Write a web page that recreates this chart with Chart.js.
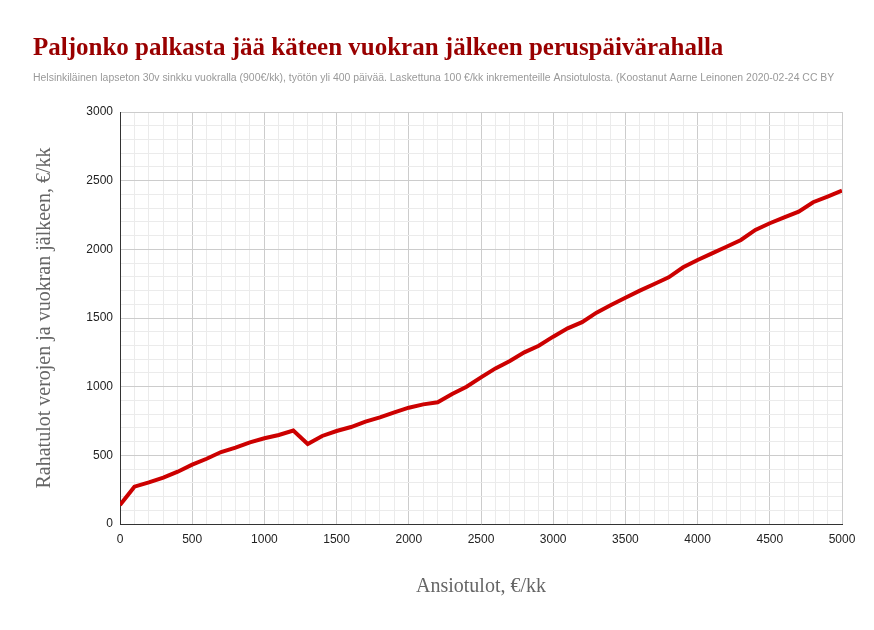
<!DOCTYPE html>
<html>
<head>
<meta charset="utf-8">
<script src="https://cdn.jsdelivr.net/npm/chart.js@4.4.1/dist/chart.umd.min.js"></script>
<style>
  html, body { margin: 0; padding: 0; background: #fff; }
  #wrap { width: 874px; height: 630px; position: relative; }
</style>
</head>
<body>
<div id="wrap"><canvas id="chart" width="874" height="630"></canvas></div>
<script>
// Data
const chartTitle = "Paljonko palkasta jää käteen vuokran jälkeen peruspäivärahalla";
const chartSubtitle = "Helsinkiläinen lapseton 30v sinkku vuokralla (900€/kk), työtön yli 400 päivää. Laskettuna 100 €/kk inkrementeille Ansiotulosta. (Koostanut Aarne Leinonen 2020-02-24 CC BY";
const xAxisTitle = "Ansiotulot, €/kk";
const yAxisTitle = "Rahatulot verojen ja vuokran jälkeen, €/kk";

const grossIncome = [
  0, 100, 200, 300, 400, 500, 600, 700, 800, 900,
  1000, 1100, 1200, 1300, 1400, 1500, 1600, 1700, 1800, 1900,
  2000, 2100, 2200, 2300, 2400, 2500, 2600, 2700, 2800, 2900,
  3000, 3100, 3200, 3300, 3400, 3500, 3600, 3700, 3800, 3900,
  4000, 4100, 4200, 4300, 4400, 4500, 4600, 4700, 4800, 4900,
  5000
];
const netIncome = [
  138, 272, 303, 337, 381, 432, 475, 524, 556, 595,
  624, 648, 680, 583, 641, 677, 706, 745, 777, 813,
  847, 871, 886, 947, 1000, 1068, 1133, 1187, 1250, 1298,
  1364, 1425, 1470, 1539, 1595, 1648, 1699, 1748, 1796, 1869,
  1922, 1971, 2019, 2068, 2141, 2190, 2233, 2274, 2343, 2384,
  2427
];

const xMax = 5000;
const yMax = 3000;
const majorStep = 500;
const minorStep = 100;

const points = grossIncome.map((x, i) => ({ x, y: netIncome[i] }));

// header text drawn into the top padding
const headerPlugin = {
  id: "header",
  afterDraw(chart) {
    const ctx = chart.ctx;
    ctx.save();
    ctx.textAlign = "left";
    ctx.textBaseline = "alphabetic";
    ctx.fillStyle = "#990000";
    ctx.font = "bold 25px 'Liberation Serif', 'DejaVu Serif', serif";
    ctx.fillText(chartTitle, 33, 55);
    ctx.fillStyle = "#999999";
    ctx.font = "10.45px 'Liberation Sans', Arial, sans-serif";
    ctx.fillText(chartSubtitle, 33, 81);
    ctx.restore();
  }
};

const gridColor = (ctx) => {
  const v = ctx.tick ? ctx.tick.value : 0;
  return v % majorStep === 0 ? "#cccccc" : "#ebebeb";
};

const tickLabel = (value) => (value % majorStep === 0 ? String(value) : "");

new Chart(document.getElementById("chart"), {
  type: "line",
  data: {
    datasets: [{
      data: points,
      borderColor: "#cc0000",
      borderWidth: 4,
      pointRadius: 0,
      tension: 0,
      fill: false,
    }]
  },
  options: {
    responsive: false,
    animation: false,
    layout: { padding: { top: 112, right: 32, bottom: 0, left: 0 } },
    plugins: {
      legend: { display: false },
      tooltip: { enabled: false },
    },
    scales: {
      x: {
        type: "linear",
        min: 0,
        max: xMax,
        afterFit: (scale) => { scale.height = 106; },
        border: { color: "#333333", width: 1 },
        grid: { color: gridColor, drawTicks: false },
        ticks: {
          stepSize: minorStep,
          autoSkip: false,
          maxRotation: 0,
          padding: 8,
          color: "#222222",
          font: { family: "'Liberation Sans', Arial, sans-serif", size: 12 },
          callback: tickLabel,
        },
        title: {
          display: true,
          text: xAxisTitle,
          color: "#666666",
          padding: 31,
          font: { family: "'Liberation Serif', 'DejaVu Serif', serif", size: 20 },
        },
      },
      y: {
        min: 0,
        max: yMax,
        afterFit: (scale) => { scale.width = 120; },
        border: { color: "#333333", width: 1 },
        grid: { color: gridColor, drawTicks: false },
        ticks: {
          stepSize: minorStep,
          autoSkip: false,
          padding: 7,
          color: "#222222",
          font: { family: "'Liberation Sans', Arial, sans-serif", size: 12 },
          callback: tickLabel,
        },
        title: {
          display: true,
          text: yAxisTitle,
          color: "#666666",
          padding: 33,
          font: { family: "'Liberation Serif', 'DejaVu Serif', serif", size: 20 },
        },
      },
    },
  },
  plugins: [headerPlugin],
});
</script>
</body>
</html>
